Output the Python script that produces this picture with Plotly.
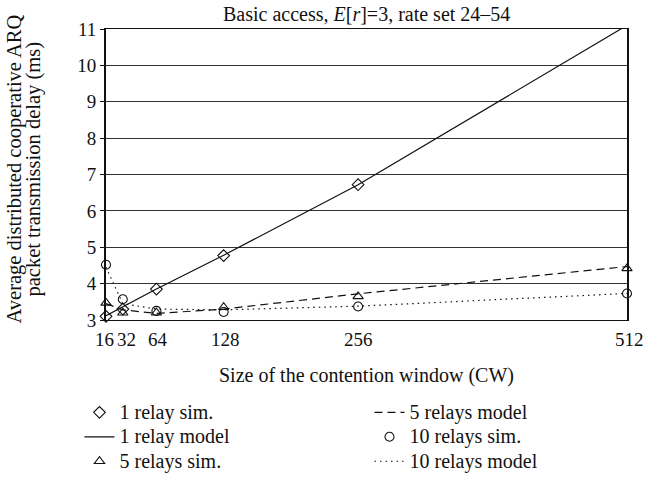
import plotly.graph_objects as go

# Contention window sizes
cw = [16, 32, 64, 128, 256, 512]
cw_labels = ["16", "32", "64", "128", "256", "512"]
cw_label_nudge = [-2, 4, 2, 2, 0, 2]  # px, keeps "16" and "32" apart

# Average transmission delay (ms)
relay1_sim = [3.10, 3.30, 3.85, 4.77, 6.72]
relay1_model = [3.12, 3.36, 3.85, 4.78, 6.72, 11.10]
relay5_sim = [3.47, 3.20, 3.20, 3.35, 3.65, 4.42]
relay5_model = [3.45, 3.28, 3.18, 3.30, 3.72, 4.47]
relay10_sim = [4.52, 3.57, 3.25, 3.22, 3.37, 3.73]
relay10_model = [4.45, 3.45, 3.30, 3.28, 3.38, 3.73]

y_ticks = [3, 4, 5, 6, 7, 8, 9, 10, 11]

FONT = "Liberation Serif, Times New Roman, serif"
BLACK = "#111111"


def leg(name):
    # larger legend text while keeping a compact row pitch
    return '<span style="font-size:20px">' + name + "</span>"


fig = go.Figure()

mk = dict(color=BLACK, size=9, line=dict(color=BLACK, width=1.1))

fig.add_trace(go.Scatter(x=cw[:5], y=relay1_sim, mode="markers", name=leg("1 relay sim."),
                         marker=dict(symbol="diamond-open", **mk), cliponaxis=False,
                         legend="legend", legendgroup="a"))
fig.add_trace(go.Scatter(x=cw, y=relay1_model, mode="lines", name=leg("1 relay model"),
                         line=dict(color=BLACK, width=1.2),
                         legend="legend", legendgroup="b"))
fig.add_trace(go.Scatter(x=cw, y=relay5_sim, mode="markers", name=leg("5 relays sim."),
                         marker=dict(symbol="triangle-up-open", **mk), cliponaxis=False,
                         legend="legend", legendgroup="c"))
fig.add_trace(go.Scatter(x=cw, y=relay5_model, mode="lines", name=leg("5 relays model"),
                         line=dict(color=BLACK, width=1.2, dash="8px,5px"),
                         legend="legend2", legendgroup="d"))
fig.add_trace(go.Scatter(x=cw, y=relay10_sim, mode="markers", name=leg("10 relays sim."),
                         marker=dict(symbol="circle-open", **mk), cliponaxis=False,
                         legend="legend2", legendgroup="e"))
fig.add_trace(go.Scatter(x=cw, y=relay10_model, mode="lines", name=leg("10 relays model"),
                         line=dict(color=BLACK, width=1.2, dash="1.5px,4px"),
                         legend="legend2", legendgroup="f"))

leg_common = dict(font=dict(family=FONT, size=16.5, color=BLACK), bgcolor="rgba(0,0,0,0)",
                  tracegroupgap=0, yanchor="top", xanchor="left", itemwidth=30,
                  xref="container", yref="container")

ytitle_font = dict(family=FONT, size=20.5, color=BLACK)
tick_font = dict(family=FONT, size=19, color=BLACK)

# x tick labels placed on the data axis
x_tick_annotations = [
    dict(text=lab, x=v, xref="x", y=0, yref="paper", yshift=-19, xshift=dx,
         xanchor="center", yanchor="middle", showarrow=False, font=tick_font)
    for v, lab, dx in zip(cw, cw_labels, cw_label_nudge)
]

fig.update_layout(
    width=659, height=486,
    margin=dict(l=106, r=32, t=29, b=166, autoexpand=False),
    paper_bgcolor="white", plot_bgcolor="white",
    font=dict(family=FONT, color=BLACK),
    showlegend=True,
    legend=dict(x=0.1206, y=0.187, **leg_common),
    legend2=dict(x=0.5607, y=0.187, **leg_common),
    xaxis=dict(
        range=[16, 512], tickvals=cw, showticklabels=False,
        showgrid=False, zeroline=False,
        showline=True, linecolor=BLACK, linewidth=1, mirror=True, ticks="",
    ),
    yaxis=dict(
        range=[3, 11], tickvals=y_ticks,
        showgrid=True, gridcolor="#333333", gridwidth=1, zeroline=False,
        showline=True, linecolor=BLACK, linewidth=2, mirror=True,
        ticks="outside", ticklen=4, tickcolor=BLACK, tickfont=tick_font,
    ),
    annotations=x_tick_annotations + [
        dict(text="Basic access, <i>E</i>[<i>r</i>]=3, rate set 24\u201354",
             xref="paper", yref="paper", x=0.5, y=1.0, yshift=15,
             xanchor="center", yanchor="middle",
             showarrow=False, font=dict(family=FONT, size=20, color=BLACK)),
        dict(text="Size of the contention window (CW)",
             xref="paper", yref="paper", x=0.5, y=0, yshift=-55,
             xanchor="center", yanchor="middle",
             showarrow=False, font=dict(family=FONT, size=20, color=BLACK)),
        dict(text="Average distributed cooperative ARQ",
             xref="paper", yref="paper", x=0, y=0.5, xshift=-92, yshift=5, textangle=-90,
             xanchor="center", yanchor="middle", showarrow=False, font=ytitle_font),
        dict(text="packet transmission delay (ms)",
             xref="paper", yref="paper", x=0, y=0.5, xshift=-73, yshift=5, textangle=-90,
             xanchor="center", yanchor="middle", showarrow=False, font=ytitle_font),
    ],
)

fig.write_html("out.html")
